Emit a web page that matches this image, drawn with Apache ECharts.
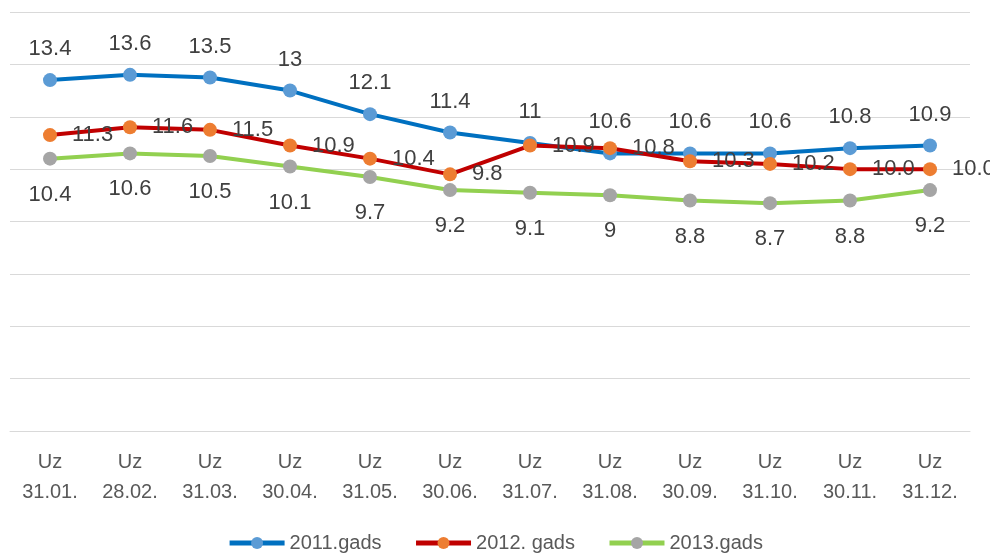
<!DOCTYPE html>
<html>
<head>
<meta charset="utf-8">
<script src="https://cdn.jsdelivr.net/npm/echarts@6/dist/echarts.min.js"></script>
<style>
  html, body { margin: 0; padding: 0; background: #fff; }
  #main { width: 990px; height: 553px; }
</style>
</head>
<body>
<div id="main"></div>
<script>
// 数据
const categories = ['Uz\n31.01.', 'Uz\n28.02.', 'Uz\n31.03.', 'Uz\n30.04.', 'Uz\n31.05.', 'Uz\n30.06.',
  'Uz\n31.07.', 'Uz\n31.08.', 'Uz\n30.09.', 'Uz\n31.10.', 'Uz\n30.11.', 'Uz\n31.12.']
const names = ['2011.gads', '2012. gads', '2013.gads']
const data2011 = [13.4, 13.6, 13.5, 13, 12.1, 11.4, 11, 10.6, 10.6, 10.6, 10.8, 10.9]
const data2012 = [11.3, 11.6, 11.5, 10.9, 10.4, 9.8, 10.9, 10.8, 10.3, 10.2, 10.0, 10.0]
const data2013 = [10.4, 10.6, 10.5, 10.1, 9.7, 9.2, 9.1, 9, 8.8, 8.7, 8.8, 9.2]

const myChart = echarts.init(document.querySelector('#main'))

const labelFont = {
  fontFamily: 'Liberation Sans, Arial, sans-serif',
  fontSize: 22,
  color: '#404040'
}

const option = {
  animation: false,
  grid: {
    left: 10,
    right: 20,
    top: 12,
    bottom: 122
  },
  legend: {
    bottom: -5,
    left: 'center',
    itemWidth: 55,
    itemHeight: 15,
    itemGap: 32,
    lineStyle: { width: 5 },
    textStyle: {
      fontFamily: 'Liberation Sans, Arial, sans-serif',
      fontSize: 20,
      color: '#595959'
    },
    data: names
  },
  xAxis: {
    type: 'category',
    data: categories,
    axisLine: { lineStyle: { color: '#d9d9d9', width: 1 } },
    axisTick: { show: false },
    axisLabel: {
      color: '#595959',
      fontFamily: 'Liberation Sans, Arial, sans-serif',
      fontSize: 20,
      lineHeight: 30,
      margin: 16
    }
  },
  yAxis: {
    type: 'value',
    min: 0,
    max: 16,
    interval: 2,
    axisLabel: { show: false },
    axisLine: { show: false },
    axisTick: { show: false },
    splitLine: { lineStyle: { color: '#d9d9d9', width: 1 } }
  },
  series: [
    {
      name: names[0],
      type: 'line',
      data: data2011,
      symbol: 'circle',
      symbolSize: 14,
      itemStyle: { color: '#5b9bd5' },
      lineStyle: { color: '#0070c0', width: 4 },
      label: { show: true, position: 'top', distance: 13, ...labelFont }
    },
    {
      name: names[1],
      type: 'line',
      data: data2012,
      symbol: 'circle',
      symbolSize: 14,
      itemStyle: { color: '#ed7d31' },
      lineStyle: { color: '#c00000', width: 4 },
      label: {
        show: true,
        position: 'right',
        distance: 15,
        formatter: p => p.value.toFixed(1),
        ...labelFont
      }
    },
    {
      name: names[2],
      type: 'line',
      data: data2013,
      symbol: 'circle',
      symbolSize: 14,
      itemStyle: { color: '#a5a5a5' },
      lineStyle: { color: '#92d050', width: 4 },
      label: { show: true, position: 'bottom', distance: 18, ...labelFont }
    }
  ]
}

myChart.setOption(option)
</script>
</body>
</html>
